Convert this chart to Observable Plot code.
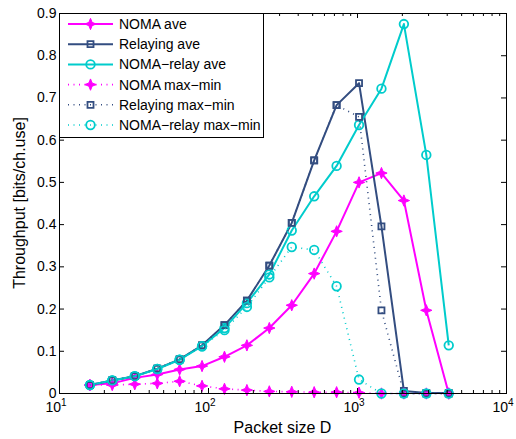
<!DOCTYPE html>
<html><head><meta charset="utf-8">
<script src="https://cdn.jsdelivr.net/npm/d3@7"></script>
<script src="https://cdn.jsdelivr.net/npm/@observablehq/plot@0.6"></script>
<style>
body{margin:0;background:#fff;}
#chart svg{display:block;overflow:visible;}
</style>
</head><body><div id="chart"></div>
<script>
// ---- data ----
const packetSize = [16, 22.6, 32, 45.3, 64, 90.5, 128, 181, 256, 362, 512, 724, 1024, 1448, 2048, 2896, 4096];
const nomaAve        = [0.020,0.024,0.037,0.045,0.057,0.065,0.087,0.114,0.155,0.209,0.284,0.384,0.500,0.522,0.457,0.197,0.000];
const relayAve       = [0.020,0.031,0.041,0.059,0.081,0.114,0.162,0.220,0.303,0.404,0.552,0.683,0.735,0.396,0.006,0.001,0.001];
const nomaRelayAve   = [0.020,0.031,0.041,0.058,0.080,0.112,0.155,0.214,0.282,0.386,0.467,0.539,0.636,0.722,0.875,0.565,0.114];
const nomaMaxMin     = [0.020,0.020,0.022,0.024,0.029,0.018,0.011,0.008,0.005,0.004,0.003,0.003,0.002,0.000,0.000,0.000,0.000];
const relayMaxMin    = [0.020,0.031,0.041,0.059,0.081,0.114,0.162,0.220,0.303,0.404,0.552,0.683,0.655,0.197,0.000,0.000,0.000];
const nomaRelayMaxMin= [0.020,0.031,0.041,0.058,0.080,0.112,0.150,0.205,0.275,0.347,0.340,0.254,0.033,0.000,0.000,0.000,0.000];
const seriesNames = ["NOMA ave","Relaying ave","NOMA\u2212relay ave","NOMA max\u2212min","Relaying max\u2212min","NOMA\u2212relay max\u2212min"];
const xMajorTicks = [10, 100, 1000, 10000];
const xExponents = ["1","2","3","4"];
const xMinorTicks = [20,30,40,50,60,70,80,90,200,300,400,500,600,700,800,900,2000,3000,4000,5000,6000,7000,8000,9000];
const yTicks = [0,0.1,0.2,0.3,0.4,0.5,0.6,0.7,0.8,0.9];
const xLabel = "Packet size D";
const yLabel = "Throughput [bits/ch.use]";

// ---- styles ----
const MAG = "#ff00ff", BLUE = "#334d80", CYAN = "#00cccc";
const FONT = "'Liberation Sans', Arial, sans-serif";
const star4 = {
  draw(ctx, size) {
    const r = Math.sqrt(size / Math.PI);
    const ro = r * 1.35, ri = r * 0.55;
    for (let i = 0; i < 8; i++) {
      const a = i * Math.PI / 4 - Math.PI / 2;
      const rr = i % 2 === 0 ? ro : ri;
      const px = rr * Math.cos(a), py = rr * Math.sin(a);
      if (i === 0) ctx.moveTo(px, py); else ctx.lineTo(px, py);
    }
    ctx.closePath();
  }
};
const DOT = "1,4.5";
const seriesValues = [nomaAve, relayAve, nomaRelayAve, nomaMaxMin, relayMaxMin, nomaRelayMaxMin];
const seriesStyle = [
  {color: MAG,  dash: null, symbol: star4,    r: 4.2, fill: MAG},
  {color: BLUE, dash: null, symbol: "square", r: 3.4, fill: "none"},
  {color: CYAN, dash: null, symbol: "circle", r: 4.3, fill: "none"},
  {color: MAG,  dash: DOT,  symbol: star4,    r: 4.2, fill: MAG},
  {color: BLUE, dash: DOT,  symbol: "square", r: 3.4, fill: "none"},
  {color: CYAN, dash: DOT,  symbol: "circle", r: 4.3, fill: "none"}
];

const W = 516, H = 439, mL = 59, mR = 10, mT = 13, mB = 46;
const innerW = W - mL - mR, innerH = H - mT - mB;

const marks = [];
seriesValues.forEach((vals, i) => {
  const st = seriesStyle[i];
  const data = packetSize.map((d, j) => ({D: d, v: vals[j]}));
  marks.push(Plot.line(data, {x: "D", y: "v", stroke: st.color, strokeWidth: st.dash ? 1.6 : 2,
    strokeDasharray: st.dash, strokeLinecap: "butt"}));
  marks.push(Plot.dot(data, {x: "D", y: "v", symbol: st.symbol, r: st.r, stroke: st.color, fill: st.fill,
    strokeWidth: st.symbol === star4 ? 1 : 1.8}));
});
// inward ticks
marks.push(Plot.tickX(xMajorTicks, {x: d => d, insetTop: innerH - 5, stroke: "#000"}));
marks.push(Plot.tickX(xMajorTicks, {x: d => d, insetBottom: innerH - 5, stroke: "#000"}));
marks.push(Plot.tickX(xMinorTicks, {x: d => d, insetTop: innerH - 3, stroke: "#000"}));
marks.push(Plot.tickX(xMinorTicks, {x: d => d, insetBottom: innerH - 3, stroke: "#000"}));
marks.push(Plot.tickY(yTicks, {y: d => d, insetRight: innerW - 5, stroke: "#000"}));
marks.push(Plot.tickY(yTicks, {y: d => d, insetLeft: innerW - 5, stroke: "#000"}));
// y tick labels
marks.push(Plot.axisY(yTicks, {anchor: "left", tickSize: 0, tickPadding: 3, fontSize: 14, label: null,
  tickFormat: d => d === 0 ? "0" : d.toFixed(1), fill: "#000"}));
// x tick labels 10^k
marks.push(Plot.text(xMajorTicks, {x: d => d, frameAnchor: "bottom", text: () => "10", textAnchor: "end", dx: 1.5, dy: 18.5, fontSize: 14, fill: "#000"}));
marks.push(Plot.text(xMajorTicks, {x: d => d, frameAnchor: "bottom", text: (d, i) => xExponents[i], textAnchor: "start", dx: 1.5, dy: 12, fontSize: 10, fill: "#000"}));
marks.push(Plot.frame({stroke: "#000", strokeWidth: 1}));

const chart = Plot.plot({
  width: W, height: H,
  marginLeft: mL, marginRight: mR, marginTop: mT, marginBottom: mB,
  style: {fontFamily: FONT, fontSize: "14px", background: "#fff", overflow: "visible"},
  x: {type: "log", domain: [10, 10000], axis: null},
  y: {domain: [0, 0.9], axis: null},
  marks
});
document.getElementById("chart").appendChild(chart);

// axis titles and legend
const svg = d3.select(chart);
svg.append("text").text(xLabel)
  .attr("x", mL + innerW / 2).attr("y", 433)
  .attr("text-anchor", "middle").attr("font-size", 16).attr("fill", "#000")
  .attr("font-family", FONT);
svg.append("text").text(yLabel)
  .attr("transform", `translate(25,${mT + innerH / 2}) rotate(-90)`)
  .attr("text-anchor", "middle").attr("font-size", 16).attr("fill", "#000")
  .attr("font-family", FONT);

const lg = svg.append("g");
lg.append("rect").attr("x", mL + 0.5).attr("y", mT + 0.5).attr("width", 204).attr("height", 124)
  .attr("fill", "#fff").attr("stroke", "#000").attr("stroke-width", 1);
seriesNames.forEach((name, i) => {
  const st = seriesStyle[i];
  const cy = 24 + i * 20.2;
  lg.append("line").attr("x1", 68).attr("x2", 113).attr("y1", cy).attr("y2", cy)
    .attr("stroke", st.color).attr("stroke-width", st.dash ? 1.6 : 2)
    .attr("stroke-dasharray", st.dash);
  const type = st.symbol === star4 ? star4 : st.symbol === "square" ? d3.symbolSquare : d3.symbolCircle;
  lg.append("path").attr("d", d3.symbol(type, Math.PI * st.r * st.r)())
    .attr("transform", `translate(90.5,${cy})`)
    .attr("fill", st.fill).attr("stroke", st.color)
    .attr("stroke-width", st.symbol === star4 ? 1 : 1.8);
  lg.append("text").text(name).attr("x", 119).attr("y", cy + 5)
    .attr("text-anchor", "start")
    .attr("font-size", 14).attr("fill", "#000")
    .attr("font-family", FONT);
});
</script>
</body></html>
